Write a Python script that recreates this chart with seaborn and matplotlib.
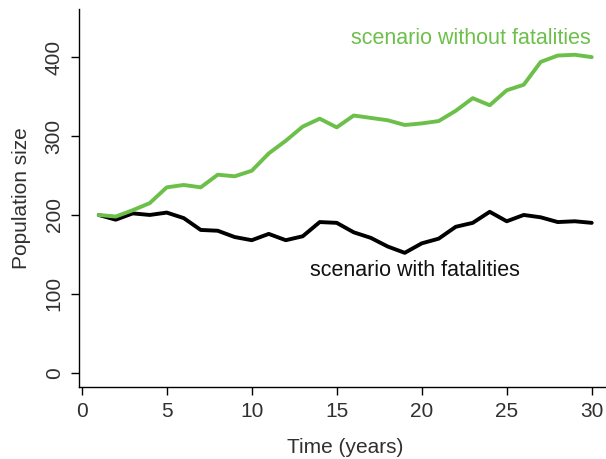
import numpy as np
import pandas as pd
import seaborn as sns
import matplotlib.pyplot as plt

plt.switch_backend('Agg')

years = list(range(1, 31))
with_fatalities = [200, 194, 202, 200, 203, 196, 181, 180, 172, 168,
                   176, 168, 173, 191, 190, 178, 171, 160, 152, 164,
                   170, 185, 190, 204, 192, 200, 197, 191, 192, 190]
without_fatalities = [200, 198, 206, 215, 235, 238, 235, 251, 249, 256,
                      278, 294, 312, 322, 311, 326, 323, 320, 314, 316,
                      319, 332, 348, 339, 358, 365, 394, 402, 403, 400]

GREEN = "#6cc04a"
TEXT = "#303030"

df = pd.DataFrame({
    "year": years * 2,
    "pop": with_fatalities + without_fatalities,
    "scenario": ["with"] * 30 + ["without"] * 30,
})

sns.set_style("ticks")
plt.rcParams['font.family'] = ['Liberation Sans', 'DejaVu Sans']

fig = plt.figure(figsize=(6.06, 4.59), dpi=100)
ax = fig.add_axes([0.1304, 0.1569, 0.8786, 0.8235])

sns.lineplot(data=df, x="year", y="pop", hue="scenario",
             palette={"with": "black", "without": GREEN},
             linewidth=2.8, legend=False, ax=ax)

ax.set_xlim(-0.16, 31.16)
ax.set_ylim(-18, 461)
ax.set_xticks([0, 5, 10, 15, 20, 25, 30])
ax.set_yticks([0, 100, 200, 300, 400])
ax.tick_params(labelsize=15, length=6, width=1, color="black",
               labelcolor=TEXT, pad=5)
for lab in ax.get_yticklabels():
    lab.set_rotation(90)
    lab.set_va("center")
ax.set_xlabel("Time (years)", fontsize=15, labelpad=12, color=TEXT)
ax.set_ylabel("Population size", fontsize=15, labelpad=10, color=TEXT)

for s in ["top", "right"]:
    ax.spines[s].set_visible(False)
for s in ["left", "bottom"]:
    ax.spines[s].set_linewidth(1)
    ax.spines[s].set_color("black")

ax.text(22.9, 423, "scenario without fatalities", color=GREEN,
        fontsize=15.5, ha="center", va="center")
ax.text(19.6, 130, "scenario with fatalities", color="#111111",
        fontsize=15.5, ha="center", va="center")

fig.savefig("out.png", dpi=100)
plt.close(fig)
